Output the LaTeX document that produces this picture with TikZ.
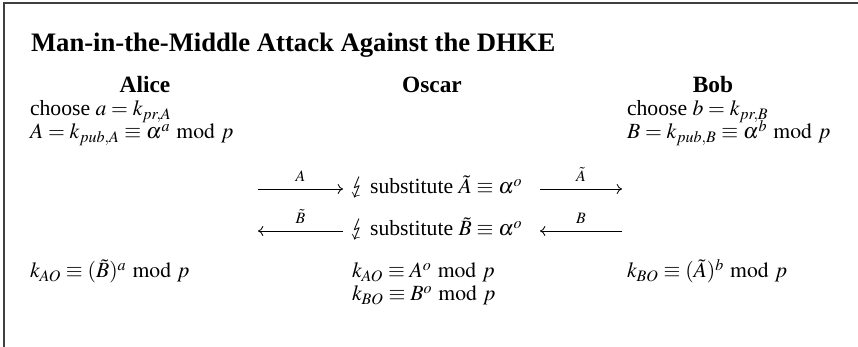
\documentclass[tikz,border=0pt]{standalone}
\usepackage{amsmath}
\usepackage{mathptmx}
\usepackage{stmaryrd}
\usepackage[no-math]{fontspec}
\setmainfont{Liberation Serif}
\usepackage{tikz}
\usetikzlibrary{arrows.meta}

\tikzset{
  txt/.style={inner sep=0pt,outer sep=0pt,anchor=base west,font=\fontsize{13}{15.6}\selectfont},
  head/.style={inner sep=0pt,outer sep=0pt,anchor=base,font=\fontsize{14}{17}\selectfont\bfseries},
  msg/.style={line width=0.5pt,-{To[length=3.2pt,width=6pt]}},
  lbl/.style={inner sep=0pt,above=4.5pt,font=\fontsize{9.5}{11}\selectfont}
}

\begin{document}
\begin{tikzpicture}[x=0.6pt,y=-0.6pt]
    \useasboundingbox (0,0) rectangle (858,347);

    % frame (only top and left edge are inside the picture)
    \draw[line width=1.1pt,black!75] (4,347)--(4,3)--(858,3);

    % title
    \node[txt,font=\fontsize{16}{19}\selectfont\bfseries] (title) at (31,52) {Man-in-the-Middle Attack Against the DHKE};

    % the three parties
    \node[head] (alice) at (145,93) {Alice};
    \node[head] (oscar) at (432,93) {Oscar};
    \node[head] (bob) at (713,93) {Bob};

    % key generation
    \node[txt] (alice1) at (30,116) {choose $a = k_{pr,A}$};
    \node[txt] (alice2) at (30,139) {$A = k_{pub,A} \equiv \alpha^a \bmod p$};
    \node[txt] (bob1) at (627,116) {choose $b = k_{pr,B}$};
    \node[txt] (bob2) at (627,139) {$B = k_{pub,B} \equiv \alpha^b \bmod p$};

    % Oscar substitutes the public keys
    \node[txt] (sub1) at (350,194) {{\Large$\lightning$} substitute $\tilde{A} \equiv \alpha^o$};
    \node[txt] (sub2) at (350,236) {{\Large$\lightning$} substitute $\tilde{B} \equiv \alpha^o$};

    % arrow ends
    \coordinate (m1a) at (258,189);
    \coordinate (m1b) at (343,189);
    \coordinate (m2a) at (540,189);
    \coordinate (m2b) at (622,189);
    \coordinate (m3a) at (258,231);
    \coordinate (m3b) at (343,231);
    \coordinate (m4a) at (540,231);
    \coordinate (m4b) at (622,231);

    % messages
    \draw[msg] (m1a) -- node[lbl] {$A$} (m1b);
    \draw[msg] (m2a) -- node[lbl] {$\tilde{A}$} (m2b);
    \draw[msg] (m3b) -- node[lbl] {$\tilde{B}$} (m3a);
    \draw[msg] (m4b) -- node[lbl] {$B$} (m4a);

    % session keys
    \node[txt] (aliceK) at (30,278) {$k_{AO} \equiv (\tilde{B})^a \bmod p$};
    \node[txt] (oscK1) at (352,278) {$k_{AO} \equiv A^o \bmod p$};
    \node[txt] (oscK2) at (352,301) {$k_{BO} \equiv B^o \bmod p$};
    \node[txt] (bobK) at (627,278) {$k_{BO} \equiv (\tilde{A})^b \bmod p$};

\end{tikzpicture}
\end{document}
